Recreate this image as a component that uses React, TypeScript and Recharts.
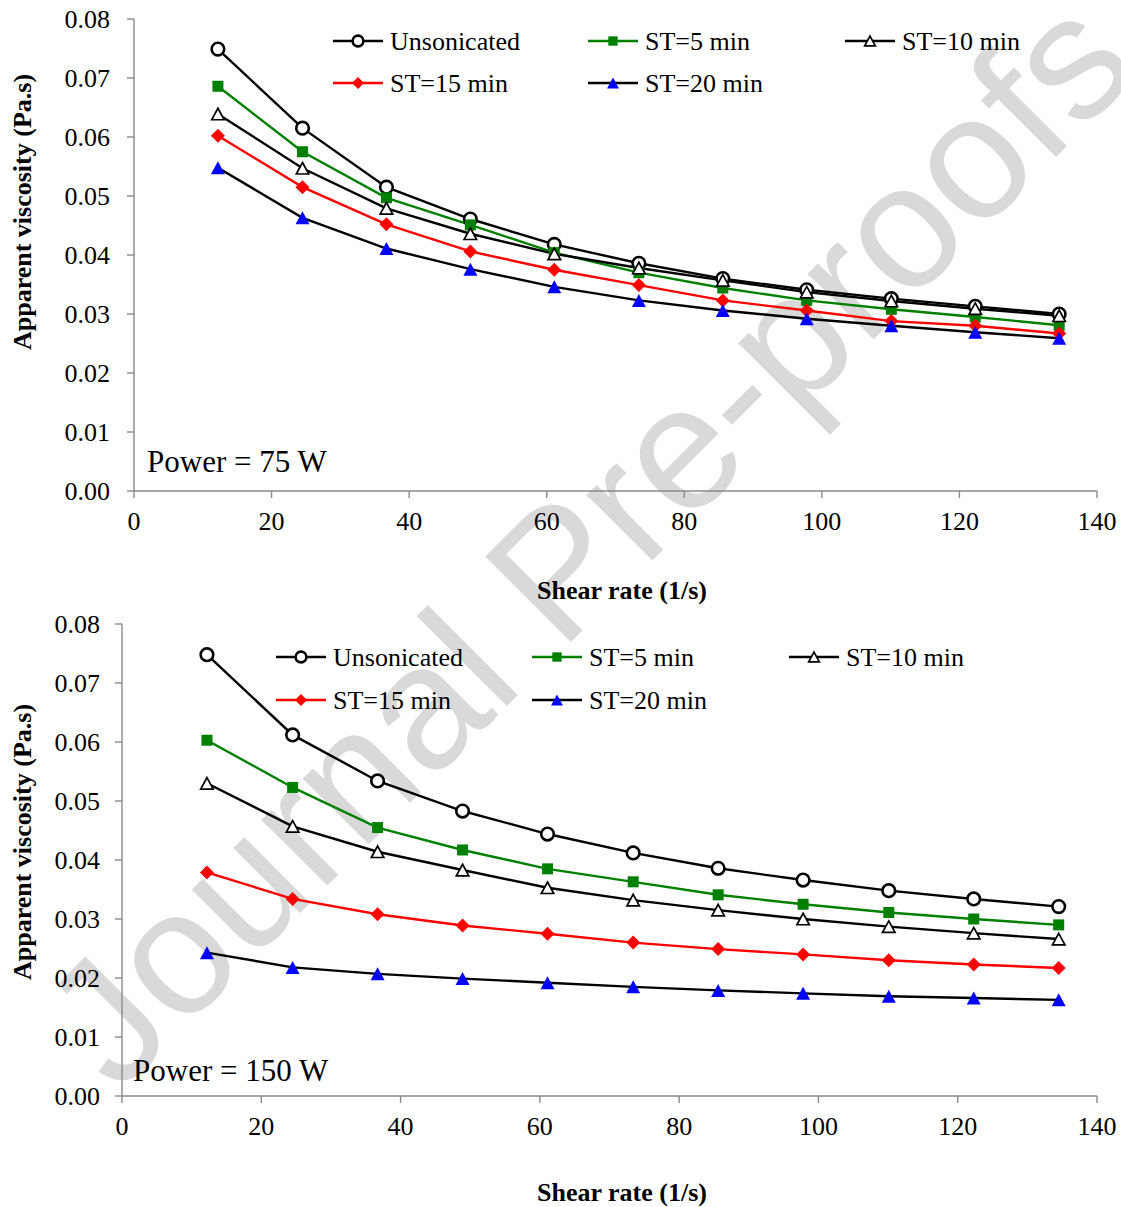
import React from 'react';
import { LineChart, Line, XAxis, YAxis, Legend } from 'recharts';

// ---------- DATA ----------
const shearRate = [12.2, 24.5, 36.7, 48.9, 61.1, 73.4, 85.6, 97.8, 110.1, 122.3, 134.5];
const xTicks = [0, 20, 40, 60, 80, 100, 120, 140];
const yTicks = [0, 0.01, 0.02, 0.03, 0.04, 0.05, 0.06, 0.07, 0.08];

// Power = 75 W
const uns75 = [0.0749, 0.0615, 0.0515, 0.0461, 0.0418, 0.0386, 0.036, 0.0341, 0.0326, 0.0313, 0.03];
const st5_75 = [0.0686, 0.0575, 0.0497, 0.0451, 0.0404, 0.037, 0.0344, 0.0323, 0.0308, 0.0295, 0.0281];
const st10_75 = [0.0639, 0.0547, 0.0479, 0.0436, 0.0402, 0.0378, 0.0357, 0.0337, 0.0322, 0.0309, 0.0297];
const st15_75 = [0.0602, 0.0515, 0.0452, 0.0406, 0.0375, 0.0349, 0.0323, 0.0306, 0.0288, 0.028, 0.0267];
const st20_75 = [0.0548, 0.0463, 0.0411, 0.0376, 0.0346, 0.0323, 0.0306, 0.0292, 0.028, 0.0269, 0.0259];

// Power = 150 W
const uns150 = [0.0748, 0.0612, 0.0534, 0.0483, 0.0444, 0.0412, 0.0386, 0.0366, 0.0348, 0.0334, 0.0321];
const st5_150 = [0.0603, 0.0523, 0.0455, 0.0417, 0.0385, 0.0363, 0.0341, 0.0325, 0.0311, 0.03, 0.029];
const st10_150 = [0.053, 0.0457, 0.0414, 0.0383, 0.0353, 0.0332, 0.0315, 0.03, 0.0287, 0.0276, 0.0266];
const st15_150 = [0.0379, 0.0334, 0.0308, 0.0289, 0.0275, 0.026, 0.0249, 0.024, 0.023, 0.0223, 0.0217];
const st20_150 = [0.0243, 0.0218, 0.0207, 0.0199, 0.0192, 0.0185, 0.0179, 0.0174, 0.0169, 0.0166, 0.0163];

const seriesNames = ['Unsonicated', 'ST=5 min', 'ST=10 min', 'ST=15 min', 'ST=20 min'];
const seriesKeys = ['uns', 'st5', 'st10', 'st15', 'st20'];

const build = (a: number[], b: number[], c: number[], d: number[], e: number[]) =>
  shearRate.map((x, i) => ({ x, uns: a[i], st5: b[i], st10: c[i], st15: d[i], st20: e[i] }));

const data75 = build(uns75, st5_75, st10_75, st15_75, st20_75);
const data150 = build(uns150, st5_150, st10_150, st15_150, st20_150);

// ---------- STYLE ----------
const FONT = "'Times New Roman', 'Liberation Serif', serif";
const serif = { fontFamily: FONT };
const AXIS = '#8a8a8a';
const lineColor: Record<string, string> = { uns: '#000000', st5: '#008000', st10: '#000000', st15: '#ff0000', st20: '#000000' };
const shapeOf: Record<string, string> = { uns: 'circle', st5: 'square', st10: 'triOpen', st15: 'diamond', st20: 'triFilled' };

function MarkerShape({ shape, cx, cy, k = 1 }: { shape: string; cx: number; cy: number; k?: number }) {
  if (cx == null || cy == null) return null;
  switch (shape) {
    case 'circle':
      return <circle cx={cx} cy={cy} r={6.3 * k} fill="#fff" stroke="#000" strokeWidth={2.6} />;
    case 'square': {
      const s = 11 * k;
      return <rect x={cx - s / 2} y={cy - s / 2} width={s} height={s} fill="#008000" />;
    }
    case 'triOpen': {
      const w = 12.5 * k, h = 11.5 * k;
      return (
        <polygon
          points={`${cx},${cy - h / 2} ${cx + w / 2},${cy + h / 2} ${cx - w / 2},${cy + h / 2}`}
          fill="#fff"
          stroke="#000"
          strokeWidth={1.7}
        />
      );
    }
    case 'diamond': {
      const r = 7 * k;
      return <polygon points={`${cx},${cy - r} ${cx + r},${cy} ${cx},${cy + r} ${cx - r},${cy}`} fill="#ff0000" />;
    }
    case 'triFilled': {
      const w = 14 * k, h = 13 * k;
      return (
        <polygon points={`${cx},${cy - h / 2} ${cx + w / 2},${cy + h / 2} ${cx - w / 2},${cy + h / 2}`} fill="#0000ff" />
      );
    }
  }
  return null;
}

const makeDot = (key: string) => (props: any) => (
  <MarkerShape key={`${key}-${props.index}`} shape={shapeOf[key]} cx={props.cx} cy={props.cy} />
);

const XTick = (props: any) => (
  <text x={props.x} y={props.y} dy={32} textAnchor="middle" fontFamily={FONT} style={serif} fontSize={26} fill="#000">
    {props.payload.value}
  </text>
);

const makeYTick = (gap: number) => (props: any) => (
  <text x={props.x - gap} y={props.y} dy={9} textAnchor="end" fontFamily={FONT} style={serif} fontSize={26} fill="#000">
    {Number(props.payload.value).toFixed(2)}
  </text>
);

const makeLegend = (cols: number[], rows: number[]) => (props: any) => {
  const payload = [...(props.payload || [])].sort(
    (a: any, b: any) => seriesKeys.indexOf(a.dataKey) - seriesKeys.indexOf(b.dataKey)
  );
  return (
    <svg width={1121} height={120} style={{ overflow: 'visible', display: 'block' }}>
      {payload.map((entry: any, i: number) => {
        const key = entry.dataKey as string;
        const x0 = cols[i % 3];
        const y0 = rows[Math.floor(i / 3)];
        return (
          <g key={key}>
            <line x1={x0} y1={y0} x2={x0 + 50} y2={y0} stroke={lineColor[key]} strokeWidth={2.4} />
            <MarkerShape shape={shapeOf[key]} cx={x0 + 25} cy={y0} k={0.85} />
            <text x={x0 + 57} y={y0 + 9} fontFamily={FONT} style={serif} fontSize={26} fill="#000">
              {entry.value}
            </text>
          </g>
        );
      })}
    </svg>
  );
};

function Panel({
  data,
  top,
  height,
  marginTop,
  yAxisWidth,
  xAxisHeight,
  yGap,
  legendCols,
  legendRows,
}: {
  data: any[];
  top: number;
  height: number;
  marginTop: number;
  yAxisWidth: number;
  xAxisHeight: number;
  yGap: number;
  legendCols: number[];
  legendRows: number[];
}) {
  return (
    <div style={{ position: 'absolute', left: 0, top, width: 1121, height, zIndex: 1, fontFamily: FONT }}>
      <LineChart width={1121} height={height} data={data} margin={{ top: marginTop, right: 24, left: 0, bottom: 0 }}>
        <XAxis
          dataKey="x"
          type="number"
          domain={[0, 140]}
          ticks={xTicks}
          height={xAxisHeight}
          stroke={AXIS}
          strokeWidth={1.4}
          tickSize={7}
          tickMargin={0}
          tickLine={{ stroke: AXIS, strokeWidth: 1.4 }}
          tick={XTick}
          interval={0}
        />
        <YAxis
          type="number"
          domain={[0, 0.08]}
          ticks={yTicks}
          width={yAxisWidth}
          stroke={AXIS}
          strokeWidth={1.4}
          tickSize={7}
          tickMargin={0}
          tickLine={{ stroke: AXIS, strokeWidth: 1.4 }}
          tick={makeYTick(yGap)}
          interval={0}
        />
        <Legend
          layout="horizontal"
          verticalAlign="middle"
          align="center"
          itemSorter={null as any}
          wrapperStyle={{ position: 'absolute', left: 0, top: 0, width: 1121, height: 120 }}
          content={makeLegend(legendCols, legendRows)}
        />
        {seriesKeys.map((k, i) => (
          <Line
            key={k}
            dataKey={k}
            name={seriesNames[i]}
            type="linear"
            stroke={lineColor[k]}
            strokeWidth={2.4}
            dot={makeDot(k)}
            activeDot={false}
            isAnimationActive={false}
          />
        ))}
      </LineChart>
    </div>
  );
}

export default function App() {
  return (
    <div style={{ position: 'absolute', left: 0, top: 0, width: 1121, height: 1207, background: '#fff', overflow: 'hidden' }}>
      {/* watermark */}
      <svg width={1121} height={1207} style={{ position: 'absolute', left: 0, top: 0, zIndex: 0 }}>
        <text
          x={118}
          y={1095}
          transform="rotate(-45 118 1095)"
          fontFamily="'Liberation Sans', Arial, sans-serif"
          fontSize={176}
          fill="#d9d9d9"
        >
          Journal Pre-proofs
        </text>
      </svg>

      <Panel
        data={data75}
        top={0}
        height={604}
        marginTop={19}
        yAxisWidth={134}
        xAxisHeight={113}
        yGap={17}
        legendCols={[333, 588, 845]}
        legendRows={[41, 83]}
      />
      <Panel
        data={data150}
        top={604}
        height={603}
        marginTop={20}
        yAxisWidth={122}
        xAxisHeight={111}
        yGap={15}
        legendCols={[276, 532, 789]}
        legendRows={[53, 96]}
      />

      {/* titles and annotations */}
      <svg width={1121} height={1207} style={{ position: 'absolute', left: 0, top: 0, zIndex: 2, pointerEvents: 'none' }}>
        <text x={147} y={472} fontFamily={FONT} fontSize={31} fill="#000">Power = 75 W</text>
        <text x={133} y={1081} fontFamily={FONT} fontSize={31} fill="#000">Power = 150 W</text>
        <text x={622} y={599} textAnchor="middle" fontFamily={FONT} fontSize={26} fontWeight="bold" fill="#000">
          Shear rate (1/s)
        </text>
        <text x={622} y={1201} textAnchor="middle" fontFamily={FONT} fontSize={26} fontWeight="bold" fill="#000">
          Shear rate (1/s)
        </text>
        <text
          x={31}
          y={212}
          transform="rotate(-90 31 212)"
          textAnchor="middle"
          fontFamily={FONT}
          fontSize={26}
          fontWeight="bold"
          fill="#000"
        >
          Apparent viscosity (Pa.s)
        </text>
        <text
          x={31}
          y={842}
          transform="rotate(-90 31 842)"
          textAnchor="middle"
          fontFamily={FONT}
          fontSize={26}
          fontWeight="bold"
          fill="#000"
        >
          Apparent viscosity (Pa.s)
        </text>
      </svg>
    </div>
  );
}
